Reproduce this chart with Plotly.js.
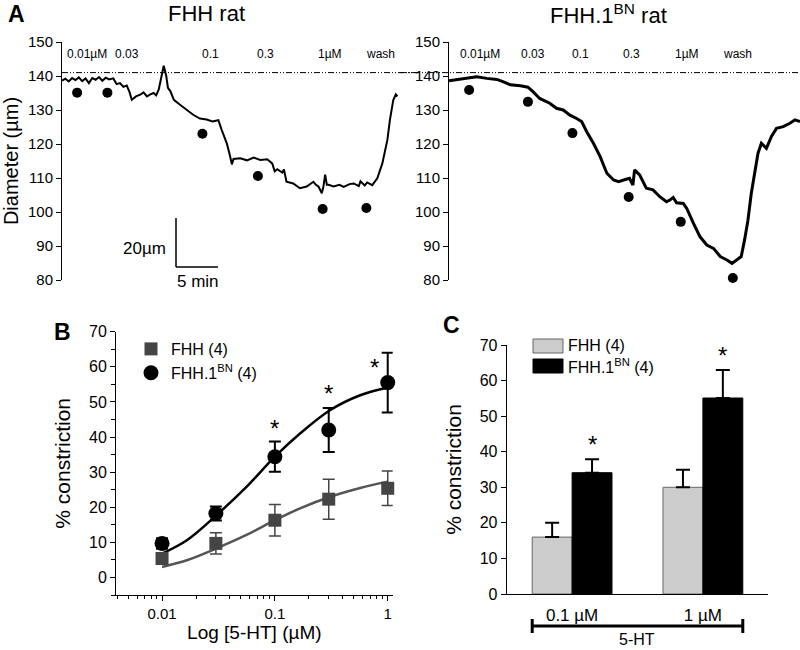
<!DOCTYPE html>
<html>
<head>
<meta charset="utf-8">
<script src="https://cdn.plot.ly/plotly-3.0.1.min.js"></script>
<style>
  html, body { margin: 0; padding: 0; background: #fff; }
  #chart { width: 800px; height: 650px; }
</style>
</head>
<body>
<div id="chart"></div>
<script>
// panel A, FHH rat: diameter trace (time in min, diameter in um)
var fhhTime = [0, 0.4, 0.8, 1.2, 1.6, 2.0, 2.4, 2.8, 3.2, 3.6, 4.0, 4.4, 4.8, 5.2, 5.6, 6.1, 6.5, 6.9, 7.3, 7.7,
  8.0, 8.3, 8.8, 9.3, 9.7, 10.1, 10.5, 10.9, 11.2, 11.5, 11.8, 12.1, 12.4, 12.6, 12.9, 13.3, 14.0, 14.8, 15.6, 16.4,
  17.2, 17.9, 18.6, 19.0, 19.6, 20.0, 20.2, 20.4, 21.2, 22.0, 22.8, 23.6, 24.4, 25.0, 25.3, 25.6, 26.2, 26.4, 26.7, 27.5,
  28.3, 29.1, 29.9, 30.2, 30.5, 30.9, 31.1, 31.3, 31.5, 31.7, 32.3, 33.0, 33.5, 34.2, 34.7, 35.3, 35.5, 36.0, 36.3, 36.9,
  37.5, 38.1, 38.7, 39.0, 39.4, 39.7, 39.9];
var fhhDiam = [138.6, 139.2, 138.4, 139.4, 138.8, 139.6, 138.5, 139.3, 137.9, 139.4, 138.9, 139.7, 138.6, 139.5, 139.0, 139.3, 137.6, 137.9, 136.8, 137.2,
  135.5, 133.0, 134.0, 134.5, 135.2, 134.0, 134.6, 135.0, 134.3, 136.0, 139.5, 143.0, 140.0, 136.5, 135.5, 133.0, 131.6, 130.0, 128.6, 127.5,
  127.2, 126.6, 127.0, 124.1, 120.2, 116.3, 114.0, 115.6, 115.8, 115.2, 116.0, 115.3, 115.5, 114.3, 112.0, 112.6, 111.6, 112.5, 108.9, 108.4,
  107.0, 107.5, 108.9, 108.0, 107.5, 105.5, 107.6, 111.0, 108.0, 108.0, 107.5, 108.0, 107.4, 108.2, 108.4, 107.6, 109.0, 107.8, 108.7, 107.9,
  109.9, 114.3, 121.2, 127.1, 132.9, 134.6, 134.0];
var fhhDotTime = [1.8, 5.4, 16.7, 23.3, 31.0, 36.2];
var fhhDotDiam = [135.1, 135.1, 123.0, 110.6, 100.9, 101.2];
var fhhDoseTime = [3.0, 7.7, 17.7, 24.2, 31.9, 37.9];

// panel A, FHH.1BN rat
var bnTime = [0, 1.0, 2.1, 3.3, 4.5, 5.7, 6.5, 7.3, 8.5, 9.4, 10.0, 10.8, 12.0, 12.8, 13.6, 14.4, 15.2, 15.8, 16.4, 17.2,
  18.0, 18.8, 19.6, 20.2, 20.8, 21.5, 21.9, 22.1, 22.7, 23.5, 24.3, 25.1, 25.9, 26.3, 26.7, 27.1, 27.9, 28.3, 29.1, 29.9,
  30.7, 31.5, 32.3, 33.1, 33.7, 34.2, 34.8, 35.2, 35.6, 36.0, 36.4, 36.8, 37.2, 37.8, 38.4, 39.0, 39.8, 40.6, 41.2, 41.8];
var bnDiam = [138.6, 139.0, 139.3, 139.8, 139.3, 139.0, 138.3, 137.4, 137.1, 136.7, 135.4, 133.4, 132.0, 130.5, 130.0, 128.5, 127.5, 126.6, 123.6, 120.2,
  116.3, 111.4, 109.4, 108.9, 109.4, 109.9, 107.9, 112.4, 110.9, 107.0, 106.5, 104.5, 103.0, 103.5, 104.3, 102.7, 102.5, 101.1, 96.7, 92.7,
  90.3, 89.3, 86.9, 85.9, 84.9, 85.9, 86.9, 91.8, 97.6, 105.5, 111.4, 117.3, 120.2, 118.7, 122.2, 124.6, 125.1, 126.1, 127.1, 126.6];
var bnDotTime = [2.4, 9.4, 14.7, 21.4, 27.6, 33.8];
var bnDotDiam = [135.9, 132.4, 123.2, 104.4, 97.1, 80.6];
var bnDoseTime = [3.7, 10.0, 15.6, 21.7, 28.3, 34.4];

var doseLabels = ['0.01\u00b5M', '0.03', '0.1', '0.3', '1\u00b5M', 'wash'];
var baseline = 141;

// panel B, concentration-response
var conc = [0.01, 0.03, 0.1, 0.3, 1];
var fhhResp = [5.4, 9.7, 16.3, 22.3, 25.4];
var fhhErr = [1.5, 3.0, 4.5, 5.7, 4.9];
var bnResp = [9.7, 18.2, 34.4, 42.0, 55.5];
var bnErr = [1.5, 2.0, 4.3, 6.3, 8.5];
var fitConc = [0.01, 0.0166, 0.0305, 0.056, 0.1, 0.167, 0.31, 0.57, 1];
var fhhFit = [3.0, 4.9, 8.3, 12.1, 16.3, 19.7, 23.0, 25.5, 27.3];
var bnFit = [6.8, 10.6, 17.8, 25.8, 34.4, 41.0, 47.7, 51.9, 54.1];
var starConcLog = [-1, -0.523, -0.113];
var starY = [44, 54, 61.4];

// panel C, bars
var doses = ['0.1 \u00b5M', '1 \u00b5M'];
var fhhBar = [16, 30];
var fhhBarErr = [4, 4.9];
var bnBar = [34.1, 55.1];
var bnBarErr = [3.8, 7.9];
var barStarY = [43.8, 68.6];

var FONT = 'Arial, "Liberation Sans", sans-serif';
var GREY = '#454545';

function px(x) { return x / 800; }
function py(y) { return 1 - y / 650; }

var data = [
  {x: fhhTime, y: fhhDiam, xaxis: 'x', yaxis: 'y', mode: 'lines', line: {color: '#000', width: 2}, showlegend: false},
  {x: fhhDotTime, y: fhhDotDiam, xaxis: 'x', yaxis: 'y', mode: 'markers', marker: {color: '#000', size: 10}, showlegend: false, cliponaxis: false},
  {x: bnTime, y: bnDiam, xaxis: 'x2', yaxis: 'y2', mode: 'lines', line: {color: '#000', width: 3}, showlegend: false},
  {x: bnDotTime, y: bnDotDiam, xaxis: 'x2', yaxis: 'y2', mode: 'markers', marker: {color: '#000', size: 10}, showlegend: false, cliponaxis: false},

  {x: fitConc, y: bnFit, xaxis: 'x3', yaxis: 'y3', mode: 'lines', line: {color: '#000', width: 2.5, shape: 'spline'}, showlegend: false},
  {x: fitConc, y: fhhFit, xaxis: 'x3', yaxis: 'y3', mode: 'lines', line: {color: '#555', width: 2.5, shape: 'spline'}, showlegend: false},
  {x: conc, y: fhhResp, xaxis: 'x3', yaxis: 'y3', mode: 'markers', name: 'FHH (4)',
    marker: {symbol: 'square', color: GREY, size: 13},
    error_y: {type: 'data', array: fhhErr, color: GREY, thickness: 1.5, width: 6}, cliponaxis: false},
  {x: conc, y: bnResp, xaxis: 'x3', yaxis: 'y3', mode: 'markers', name: 'FHH.1<sup>BN</sup> (4)',
    marker: {symbol: 'circle', color: '#000', size: 15},
    error_y: {type: 'data', array: bnErr, color: '#000', thickness: 2, width: 6}, cliponaxis: false},

  {x: doses, y: fhhBar, xaxis: 'x4', yaxis: 'y4', type: 'bar', showlegend: false,
    marker: {color: '#cccccc', line: {color: '#666', width: 1}},
    error_y: {type: 'data', symmetric: false, array: fhhBarErr, arrayminus: [0, 0], color: '#000', thickness: 2, width: 7}},
  {x: doses, y: bnBar, xaxis: 'x4', yaxis: 'y4', type: 'bar', showlegend: false,
    marker: {color: '#000', line: {color: '#000', width: 1}},
    error_y: {type: 'data', symmetric: false, array: bnBarErr, arrayminus: [0, 0], color: '#000', thickness: 2, width: 7}}
];

var ann = [];
function txt(x, y, text, size, opts) {
  var a = {x: x, y: y, xref: 'paper', yref: 'paper', text: text, showarrow: false,
    font: {family: FONT, size: size, color: '#000'}, xanchor: 'center', yanchor: 'middle'};
  for (var k in opts) a[k] = opts[k];
  ann.push(a);
}

// panel letters and titles
txt(px(16), py(14), '<b>A</b>', 23);
txt(px(62), py(332), '<b>B</b>', 23);
txt(px(452), py(325), '<b>C</b>', 23);
txt(px(206), py(14), 'FHH rat', 22);
txt(px(608), py(14), 'FHH.1<sup>BN</sup> rat', 22);

// dose labels over the traces
for (var i = 0; i < doseLabels.length; i++) {
  ann.push({x: fhhDoseTime[i], y: 146.5, xref: 'x', yref: 'y', text: doseLabels[i], showarrow: false,
    font: {family: FONT, size: 12, color: '#000'}});
  ann.push({x: bnDoseTime[i], y: 146.5, xref: 'x2', yref: 'y2', text: doseLabels[i], showarrow: false,
    font: {family: FONT, size: 12, color: '#000'}});
}

// scale bar labels
txt(px(168), py(248), '20\u00b5m', 17, {xanchor: 'right'});
txt(px(198), py(282), '5 min', 17);

// asterisks B
for (var j = 0; j < starConcLog.length; j++) {
  ann.push({x: starConcLog[j], y: starY[j], xref: 'x3', yref: 'y3', text: '*', showarrow: false,
    yshift: -6, font: {family: FONT, size: 24, color: '#000'}});
}
// asterisks C (over the FHH.1BN bars)
for (var k = 0; k < barStarY.length; k++) {
  ann.push({x: k + 0.1525, y: barStarY[k], xref: 'x4', yref: 'y4', text: '*', showarrow: false,
    yshift: -6, font: {family: FONT, size: 24, color: '#000'}});
}

// C legend text and 5-HT label
txt(px(566), py(346), 'FHH (4)', 16, {xanchor: 'left'});
txt(px(566), py(366), 'FHH.1<sup>BN</sup> (4)', 16, {xanchor: 'left'});
txt(px(637), py(639), '5-HT', 16);

var shapes = [
  // baselines
  {type: 'line', xref: 'paper', yref: 'y', x0: px(62), x1: px(420), y0: baseline, y1: baseline,
    line: {color: '#000', width: 1, dash: '6px,2px,1px,2px,1px,2px'}},
  {type: 'line', xref: 'paper', yref: 'y2', x0: px(400), x1: 1, y0: baseline, y1: baseline,
    line: {color: '#000', width: 1, dash: '6px,2px,1px,2px,1px,2px'}},
  // scale bar
  {type: 'line', xref: 'paper', yref: 'paper', x0: px(176), x1: px(176), y0: py(218), y1: py(267), line: {color: '#000', width: 1.5}},
  {type: 'line', xref: 'paper', yref: 'paper', x0: px(176), x1: px(218), y0: py(267), y1: py(267), line: {color: '#000', width: 1.5}},
  // C legend keys
  {type: 'rect', xref: 'paper', yref: 'paper', x0: px(533), x1: px(563), y0: py(339), y1: py(353), fillcolor: '#cccccc', line: {color: '#666', width: 1}},
  {type: 'rect', xref: 'paper', yref: 'paper', x0: px(533), x1: px(563), y0: py(359), y1: py(373), fillcolor: '#000', line: {color: '#000', width: 1}},
  // 5-HT bracket
  {type: 'line', xref: 'x4', yref: 'paper', x0: -0.305, x1: 1.305, y0: py(626), y1: py(626), line: {color: '#000', width: 3}},
  {type: 'line', xref: 'x4', yref: 'paper', x0: -0.305, x1: -0.305, y0: py(619), y1: py(633), line: {color: '#000', width: 3}},
  {type: 'line', xref: 'x4', yref: 'paper', x0: 1.305, x1: 1.305, y0: py(619), y1: py(633), line: {color: '#000', width: 3}}
];

var tickA = {family: FONT, size: 15, color: '#000'};
var tickB = {family: FONT, size: 16, color: '#000'};
var yA = {domain: [py(280), py(42)], range: [80, 150], showline: true, linecolor: '#000', linewidth: 1,
  ticks: 'outside', ticklen: 5, tickcolor: '#000', dtick: 10, tick0: 0, tickfont: tickA,
  showgrid: false, zeroline: false, fixedrange: true};

var layout = {
  width: 800, height: 650,
  margin: {l: 0, r: 0, t: 0, b: 0},
  paper_bgcolor: '#fff', plot_bgcolor: 'rgba(0,0,0,0)',
  font: {family: FONT, color: '#000'},
  showlegend: true,
  legend: {x: px(131), y: py(332), xanchor: 'left', yanchor: 'top', bgcolor: 'rgba(0,0,0,0)',
    font: {family: FONT, size: 16, color: '#000'}, tracegroupgap: 0},
  xaxis: {domain: [px(62), px(400)], range: [0, 40.2], visible: false, fixedrange: true},
  yaxis: Object.assign({}, yA, {anchor: 'x',
    title: {text: 'Diameter (\u00b5m)', font: {family: FONT, size: 20, color: '#000'}, standoff: 6}}),
  xaxis2: {domain: [px(449), 1], range: [0, 41.8], visible: false, anchor: 'y2', fixedrange: true},
  yaxis2: Object.assign({}, yA, {anchor: 'x2'}),
  xaxis3: {domain: [px(116), px(392.7)], type: 'log', range: [-2.408, 0.044], anchor: 'y3',
    showline: true, linecolor: '#000', ticks: 'outside', ticklen: 5, tickcolor: '#000',
    tickmode: 'array', tickvals: [0.01, 0.1, 1], ticktext: ['0.01', '0.1', '1'], tickfont: {family: FONT, size: 15, color: '#000'},
    minor: {ticks: 'outside', ticklen: 3, tickcolor: '#000', tickmode: 'array',
      tickvals: [0.004, 0.005, 0.006, 0.007, 0.008, 0.009, 0.02, 0.03, 0.04, 0.05, 0.06, 0.07, 0.08, 0.09,
        0.2, 0.3, 0.4, 0.5, 0.6, 0.7, 0.8, 0.9]},
    showgrid: false, zeroline: false,
    title: {text: 'Log [5-HT] (\u00b5M)', font: {family: FONT, size: 19, color: '#000'}, standoff: 4}},
  yaxis3: {domain: [py(595), py(331.7)], range: [-5, 70], anchor: 'x3',
    showline: true, linecolor: '#000', ticks: 'outside', ticklen: 5, tickcolor: '#000',
    tickmode: 'array', tickvals: [0, 10, 20, 30, 40, 50, 60, 70], tickfont: tickB,
    minor: {ticks: 'outside', ticklen: 4, tickcolor: '#000', tickmode: 'array', tickvals: [-5, 5, 15, 25, 35, 45, 55, 65]},
    showgrid: false, zeroline: false,
    title: {text: '% constriction', font: {family: FONT, size: 21, color: '#000'}, standoff: 12}},
  xaxis4: {domain: [px(506.7), px(768.3)], type: 'category', range: [-0.5, 1.5], anchor: 'y4',
    showline: true, linecolor: '#000', ticks: '', tickfont: {family: FONT, size: 17, color: '#000'},
    ticklabelstandoff: 6, showgrid: false, zeroline: false},
  yaxis4: {domain: [py(594), py(345)], range: [0, 70], anchor: 'x4',
    showline: true, linecolor: '#000', ticks: 'outside', ticklen: 5, tickcolor: '#000', dtick: 10, tickfont: tickB,
    showgrid: false, zeroline: false,
    title: {text: '% constriction', font: {family: FONT, size: 21, color: '#000'}, standoff: 12}},
  barmode: 'group', bargap: 0.39, bargroupgap: 0,
  annotations: ann,
  shapes: shapes
};

Plotly.newPlot('chart', data, layout, {staticPlot: true});
</script>
</body>
</html>
